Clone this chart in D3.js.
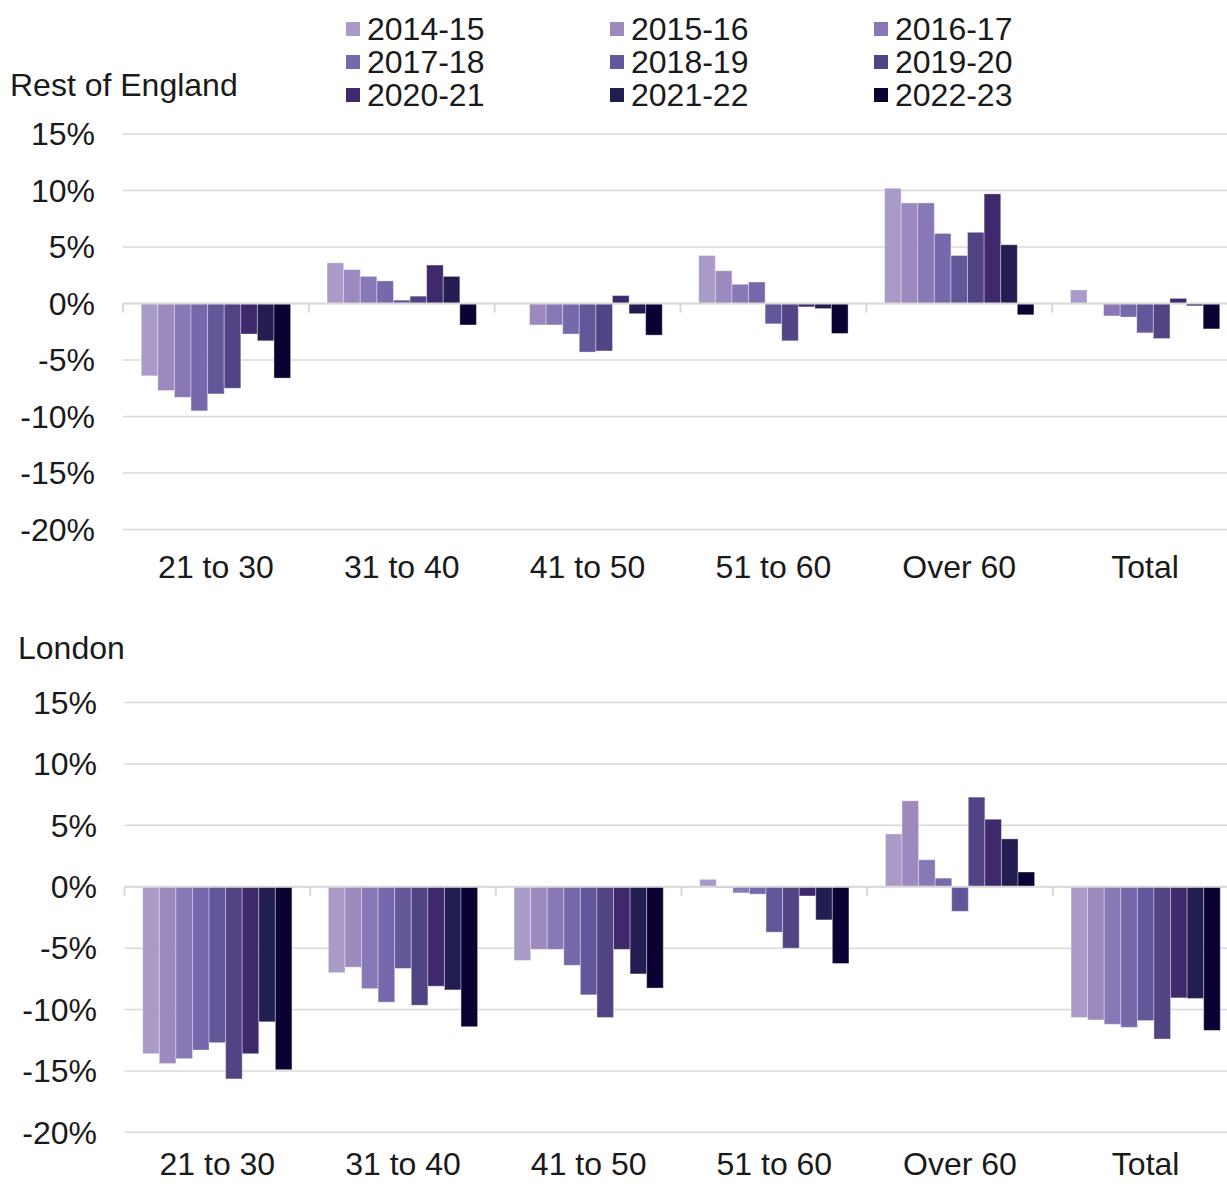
<!DOCTYPE html>
<html>
<head>
<meta charset="utf-8">
<script src="https://cdn.jsdelivr.net/npm/d3@7"></script>
<style>
  html, body { margin: 0; padding: 0; background: #fff; }
  svg { display: block; }
  text { font-family: "Liberation Sans", Arial, sans-serif; fill: #1a1a1a; }
</style>
</head>
<body>
<svg id="chart" width="1227" height="1184"></svg>
<script>
const categories = ["21 to 30", "31 to 40", "41 to 50", "51 to 60", "Over 60", "Total"];
const years = ["2014-15", "2015-16", "2016-17", "2017-18", "2018-19", "2019-20", "2020-21", "2021-22", "2022-23"];
const colors = ["#aa9ac8", "#9c89be", "#8878b5", "#7668ab", "#635799", "#514384", "#3e296c", "#231e51", "#0b0233"];
const yTicks = [15, 10, 5, 0, -5, -10, -15, -20];

// values per category, one entry per year (percent change)
const restOfEngland = [
  [-6.4, -7.7, -8.3, -9.5, -8.0, -7.5, -2.7, -3.3, -6.6],
  [3.6, 3.0, 2.4, 2.0, 0.3, 0.65, 3.4, 2.4, -1.9],
  [0.0, -1.9, -1.9, -2.7, -4.3, -4.2, 0.7, -0.9, -2.8],
  [4.25, 2.9, 1.7, 1.9, -1.8, -3.3, -0.3, -0.45, -2.65],
  [10.2, 8.9, 8.9, 6.2, 4.25, 6.3, 9.7, 5.2, -1.0],
  [1.2, 0.0, -1.1, -1.2, -2.6, -3.1, 0.45, -0.2, -2.25]
];
const london = [
  [-13.6, -14.4, -14.0, -13.3, -12.7, -15.65, -13.6, -11.0, -14.9],
  [-7.0, -6.55, -8.3, -9.4, -6.65, -9.65, -8.1, -8.4, -11.4],
  [-6.0, -5.1, -5.1, -6.4, -8.8, -10.65, -5.1, -7.1, -8.25],
  [0.6, -0.1, -0.5, -0.6, -3.7, -5.0, -0.75, -2.7, -6.25],
  [4.3, 7.0, 2.2, 0.7, -2.0, 7.3, 5.5, 3.9, 1.2],
  [-10.65, -10.85, -11.2, -11.45, -10.9, -12.4, -9.05, -9.1, -11.7]
];

const svg = d3.select("#chart");
const FS = 32;

// Legend
const legendCols = [346, 610, 874];
const legendRows = [29, 62, 95];
years.forEach((yr, i) => {
  const cx = legendCols[i % 3], cy = legendRows[Math.floor(i / 3)];
  svg.append("rect").attr("x", cx).attr("y", cy - 7).attr("width", 14).attr("height", 14).attr("fill", colors[i]);
  svg.append("text").attr("x", cx + 21).attr("y", cy).attr("dy", "0.35em")
    .style("font-size", FS + "px").text(yr);
});

function panel(opts) {
  const { data, title, titleX, titleY, x0Range, yRange, labelX, catLabelY } = opts;
  const g = svg.append("g");
  const x0 = d3.scaleBand().domain(categories).range(x0Range).padding(0);
  const x1 = d3.scaleBand().domain(years).range([0, x0.bandwidth()]).paddingInner(0).paddingOuter(1.1);
  const y = d3.scaleLinear().domain([-20, 15]).range(yRange);

  // gridlines
  g.selectAll("line.grid").data(yTicks).join("line")
    .attr("x1", x0Range[0]).attr("x2", 1227)
    .attr("y1", d => y(d)).attr("y2", d => y(d))
    .attr("stroke", "#d9d9d9").attr("stroke-width", 1.5);

  // y labels
  g.selectAll("text.ytick").data(yTicks).join("text")
    .attr("x", labelX).attr("y", d => y(d)).attr("dy", "0.35em")
    .attr("text-anchor", "end").style("font-size", FS + "px")
    .text(d => d + "%");

  // bars
  categories.forEach((c, ci) => {
    g.selectAll(null).data(data[ci]).join("rect")
      .attr("x", (d, i) => x0(c) + x1(years[i]))
      .attr("width", x1.bandwidth())
      .attr("y", d => y(Math.max(0, d)))
      .attr("height", d => Math.abs(y(d) - y(0)))
      .attr("fill", (d, i) => colors[i])
      .attr("stroke", "rgba(255,255,255,0.35)").attr("stroke-width", 1);
  });

  // zero axis with ticks
  g.append("line").attr("x1", x0Range[0]).attr("x2", 1227)
    .attr("y1", y(0)).attr("y2", y(0)).attr("stroke", "#d9d9d9").attr("stroke-width", 2);
  const bounds = categories.map(c => x0(c));
  g.selectAll("line.tk").data(bounds).join("line")
    .attr("x1", d => d).attr("x2", d => d)
    .attr("y1", y(0)).attr("y2", y(0) + 9)
    .attr("stroke", "#d9d9d9").attr("stroke-width", 2);

  // category labels
  g.selectAll("text.cat").data(categories).join("text")
    .attr("x", d => x0(d) + x0.bandwidth() / 2).attr("y", catLabelY)
    .attr("text-anchor", "middle").style("font-size", FS + "px").text(d => d);

  // title
  g.append("text").attr("x", titleX).attr("y", titleY).attr("dy", "0.35em")
    .style("font-size", FS + "px").text(title);
}

panel({ data: restOfEngland, title: "Rest of England", titleX: 10, titleY: 85,
  x0Range: [123, 1238], yRange: [529.5, 134], labelX: 95, catLabelY: 578 });
panel({ data: london, title: "London", titleX: 18, titleY: 648,
  x0Range: [124.5, 1238.5], yRange: [1132.3, 702.6], labelX: 97, catLabelY: 1175 });
</script>
</body>
</html>
